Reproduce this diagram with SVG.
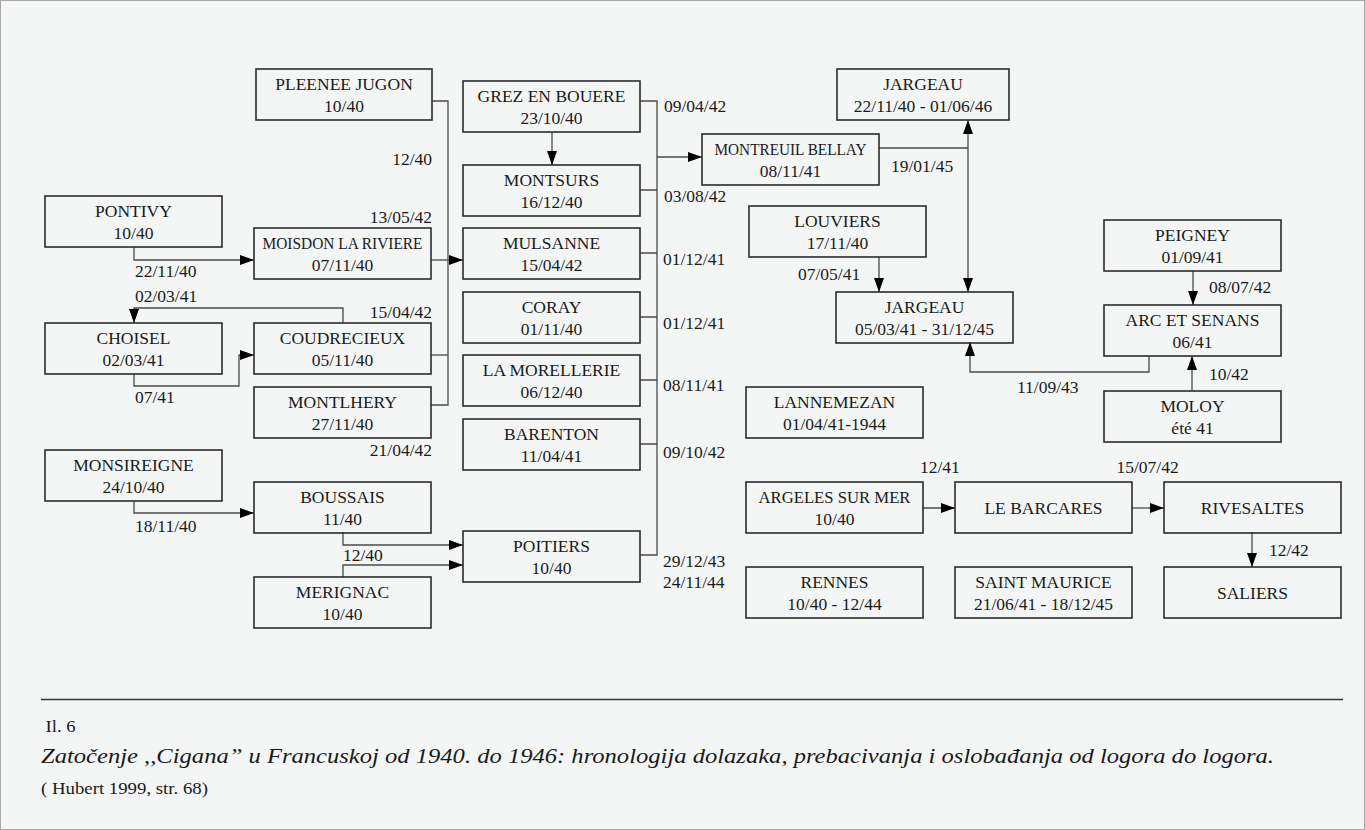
<svg xmlns="http://www.w3.org/2000/svg" width="1365" height="830" viewBox="0 0 1365 830">
<defs>
<style>
.b{fill:none;stroke:#2b2b2b;stroke-width:1.6}
.t{font-family:"Liberation Serif","Times New Roman",serif;font-size:17.5px;fill:#1a1a1a;text-anchor:middle}
.l{font-family:"Liberation Serif","Times New Roman",serif;font-size:17.5px;fill:#1a1a1a}
.e{text-anchor:end}
.c{fill:none;stroke:#4a4a4a;stroke-width:1.3}
.a{marker-end:url(#ah)}
</style>
<marker id="ah" viewBox="0 0 14 10" refX="14" refY="5" markerWidth="14" markerHeight="10" markerUnits="userSpaceOnUse" orient="auto">
<path d="M0,0 L14,5 L0,10 z" fill="#000"/>
</marker>
<marker id="as" viewBox="0 0 14 10" refX="14" refY="5" markerWidth="14" markerHeight="10" markerUnits="userSpaceOnUse" orient="auto-start-reverse">
<path d="M0,0 L14,5 L0,10 z" fill="#000"/>
</marker>
</defs>
<rect x="0.5" y="0.5" width="1364" height="829" fill="#f4f6f6" stroke="#a8a8a8" stroke-width="1"/>

<g id="connectors">
<path class="c a" d="M134,247 V260 H254"/>
<path class="c a" d="M431,260 H463"/>
<path class="c" d="M432,101 H448 V405 H431"/>
<path class="c" d="M431,355 H448"/>
<path class="c a" d="M343,323 V308 H134 V323"/>
<path class="c a" d="M134,374 V386 H239 V355 H254"/>
<path class="c a" d="M134,501 V513 H254"/>
<path class="c a" d="M343,532 V545 H463"/>
<path class="c a" d="M343,577 V565 H463"/>
<path class="c a" d="M552,132 V165"/>
<path class="c" d="M640,101 H657 V555 H640"/>
<path class="c" d="M640,190 H657 M640,253 H657 M640,317 H657 M640,380 H657 M640,444 H657"/>
<path class="c a" d="M657,157 H702"/>
<path class="c" d="M879,148 H968"/>
<path class="c a" d="M968,120 V292" style="marker-start:url(#as)"/>
<path class="c a" d="M879,257 V292"/>
<path class="c a" d="M1149,356 V372 H970 V342"/>
<path class="c a" d="M1193,271 V305"/>
<path class="c a" d="M1192,391 V356"/>
<path class="c a" d="M922,508 H955"/>
<path class="c a" d="M1132,508 H1164"/>
<path class="c a" d="M1252,532 V567"/>
</g>

<g id="n-pleenee"><rect class="b" x="256" y="69" width="176" height="51"/><text class="t" x="344" y="90">PLEENEE JUGON</text><text class="t" x="344" y="111.5">10/40</text></g>
<g id="n-pontivy"><rect class="b" x="45" y="196" width="177" height="51"/><text class="t" x="133.5" y="217">PONTIVY</text><text class="t" x="133.5" y="238.5">10/40</text></g>
<g id="n-moisdon"><rect class="b" x="254" y="228" width="177" height="51"/><text class="t" x="342.5" y="248.5" textLength="160" lengthAdjust="spacingAndGlyphs">MOISDON LA RIVIERE</text><text class="t" x="342.5" y="270.5">07/11/40</text></g>
<g id="n-choisel"><rect class="b" x="45" y="323" width="177" height="51"/><text class="t" x="133.5" y="344">CHOISEL</text><text class="t" x="133.5" y="365.5">02/03/41</text></g>
<g id="n-coudrecieux"><rect class="b" x="254" y="323" width="177" height="51"/><text class="t" x="342.5" y="344">COUDRECIEUX</text><text class="t" x="342.5" y="365.5">05/11/40</text></g>
<g id="n-montlhery"><rect class="b" x="254" y="387" width="177" height="51"/><text class="t" x="342.5" y="408">MONTLHERY</text><text class="t" x="342.5" y="429.5">27/11/40</text></g>
<g id="n-monsireigne"><rect class="b" x="45" y="450" width="177" height="51"/><text class="t" x="133.5" y="471">MONSIREIGNE</text><text class="t" x="133.5" y="492.5">24/10/40</text></g>
<g id="n-boussais"><rect class="b" x="254" y="482" width="177" height="51"/><text class="t" x="342.5" y="503">BOUSSAIS</text><text class="t" x="342.5" y="524.5">11/40</text></g>
<g id="n-merignac"><rect class="b" x="254" y="577" width="177" height="51"/><text class="t" x="342.5" y="598">MERIGNAC</text><text class="t" x="342.5" y="619.5">10/40</text></g>
<g id="n-grez"><rect class="b" x="463" y="81" width="177" height="51"/><text class="t" x="551.5" y="102">GREZ EN BOUERE</text><text class="t" x="551.5" y="123.5">23/10/40</text></g>
<g id="n-montsurs"><rect class="b" x="463" y="165" width="177" height="51"/><text class="t" x="551.5" y="186">MONTSURS</text><text class="t" x="551.5" y="207.5">16/12/40</text></g>
<g id="n-mulsanne"><rect class="b" x="463" y="228" width="177" height="51"/><text class="t" x="551.5" y="249">MULSANNE</text><text class="t" x="551.5" y="270.5">15/04/42</text></g>
<g id="n-coray"><rect class="b" x="463" y="292" width="177" height="51"/><text class="t" x="551.5" y="313">CORAY</text><text class="t" x="551.5" y="334.5">01/11/40</text></g>
<g id="n-morellerie"><rect class="b" x="463" y="355" width="177" height="51"/><text class="t" x="551.5" y="376">LA MORELLERIE</text><text class="t" x="551.5" y="397.5">06/12/40</text></g>
<g id="n-barenton"><rect class="b" x="463" y="419" width="177" height="51"/><text class="t" x="551.5" y="440">BARENTON</text><text class="t" x="551.5" y="461.5">11/04/41</text></g>
<g id="n-poitiers"><rect class="b" x="463" y="531" width="177" height="51"/><text class="t" x="551.5" y="552">POITIERS</text><text class="t" x="551.5" y="573.5">10/40</text></g>
<g id="n-jargeau1"><rect class="b" x="837" y="69" width="172" height="51"/><text class="t" x="923" y="90">JARGEAU</text><text class="t" x="923" y="111.5">22/11/40 - 01/06/46</text></g>
<g id="n-montreuil"><rect class="b" x="702" y="134" width="177" height="51"/><text class="t" x="790.5" y="155" textLength="152" lengthAdjust="spacingAndGlyphs">MONTREUIL BELLAY</text><text class="t" x="790.5" y="176.5">08/11/41</text></g>
<g id="n-louviers"><rect class="b" x="749" y="206" width="177" height="51"/><text class="t" x="837.5" y="227">LOUVIERS</text><text class="t" x="837.5" y="248.5">17/11/40</text></g>
<g id="n-jargeau2"><rect class="b" x="836" y="292" width="177" height="51"/><text class="t" x="924.5" y="313">JARGEAU</text><text class="t" x="924.5" y="334.5">05/03/41 - 31/12/45</text></g>
<g id="n-lannemezan"><rect class="b" x="746" y="387" width="177" height="51"/><text class="t" x="834.5" y="408">LANNEMEZAN</text><text class="t" x="834.5" y="429.5">01/04/41-1944</text></g>
<g id="n-peigney"><rect class="b" x="1104" y="220" width="177" height="51"/><text class="t" x="1192.5" y="241">PEIGNEY</text><text class="t" x="1192.5" y="262.5">01/09/41</text></g>
<g id="n-arc"><rect class="b" x="1104" y="305" width="177" height="51"/><text class="t" x="1192.5" y="326">ARC ET SENANS</text><text class="t" x="1192.5" y="347.5">06/41</text></g>
<g id="n-moloy"><rect class="b" x="1104" y="391" width="177" height="51"/><text class="t" x="1192.5" y="412">MOLOY</text><text class="t" x="1192.5" y="433.5">été 41</text></g>
<g id="n-argeles"><rect class="b" x="746" y="482" width="177" height="51"/><text class="t" x="834.5" y="503" textLength="152" lengthAdjust="spacingAndGlyphs">ARGELES SUR MER</text><text class="t" x="834.5" y="524.5">10/40</text></g>
<g id="n-barcares"><rect class="b" x="955" y="482" width="177" height="51"/><text class="t" x="1043.5" y="514">LE BARCARES</text></g>
<g id="n-rivesaltes"><rect class="b" x="1164" y="482" width="177" height="51"/><text class="t" x="1252.5" y="514">RIVESALTES</text></g>
<g id="n-rennes"><rect class="b" x="746" y="567" width="177" height="51"/><text class="t" x="834.5" y="588">RENNES</text><text class="t" x="834.5" y="609.5">10/40 - 12/44</text></g>
<g id="n-saintmaurice"><rect class="b" x="955" y="567" width="177" height="51"/><text class="t" x="1043.5" y="588">SAINT MAURICE</text><text class="t" x="1043.5" y="609.5">21/06/41 - 18/12/45</text></g>
<g id="n-saliers"><rect class="b" x="1164" y="567" width="177" height="51"/><text class="t" x="1252.5" y="599">SALIERS</text></g>

<g id="labels">
<text class="l e" x="432" y="165">12/40</text>
<text class="l e" x="432" y="222.5">13/05/42</text>
<text class="l" x="135" y="276.7">22/11/40</text>
<text class="l" x="135" y="301.7">02/03/41</text>
<text class="l e" x="432" y="318.3">15/04/42</text>
<text class="l" x="135" y="403.3">07/41</text>
<text class="l e" x="432" y="455.7">21/04/42</text>
<text class="l" x="135" y="531.7">18/11/40</text>
<text class="l" x="343" y="560.7">12/40</text>
<text class="l" x="664" y="112.3">09/04/42</text>
<text class="l" x="664" y="201.7">03/08/42</text>
<text class="l" x="663" y="265">01/12/41</text>
<text class="l" x="663" y="329">01/12/41</text>
<text class="l" x="663" y="391">08/11/41</text>
<text class="l" x="663" y="458.3">09/10/42</text>
<text class="l" x="663" y="567.3">29/12/43</text>
<text class="l" x="663" y="588">24/11/44</text>
<text class="l" x="891" y="171.7">19/01/45</text>
<text class="l" x="798" y="280">07/05/41</text>
<text class="l" x="1017" y="393.3">11/09/43</text>
<text class="l" x="1209" y="293">08/07/42</text>
<text class="l" x="1209" y="379.7">10/42</text>
<text class="l" x="920" y="472.5">12/41</text>
<text class="l" x="1116.5" y="472.5">15/07/42</text>
<text class="l" x="1269" y="555.7">12/42</text>
</g>

<g id="caption">
<path d="M41,699.5 H1343" stroke="#333" stroke-width="1.3" fill="none"/>
<text x="45.6" y="731.7" style="font-family:'Liberation Serif','Times New Roman',serif;font-size:16px;fill:#1a1a1a" textLength="30" lengthAdjust="spacingAndGlyphs">Il. 6</text>
<text x="41" y="763.3" style="font-family:'Liberation Serif','Times New Roman',serif;font-size:22px;font-style:italic;fill:#1a1a1a" textLength="1233" lengthAdjust="spacingAndGlyphs">Zatočenje ,,Cigana” u Francuskoj od 1940. do 1946: hronologija dolazaka, prebacivanja i oslobađanja od logora do logora.</text>
<text x="41" y="793.5" style="font-family:'Liberation Serif','Times New Roman',serif;font-size:16px;fill:#1a1a1a" textLength="167" lengthAdjust="spacingAndGlyphs">( Hubert 1999, str. 68)</text>
</g>
</svg>
